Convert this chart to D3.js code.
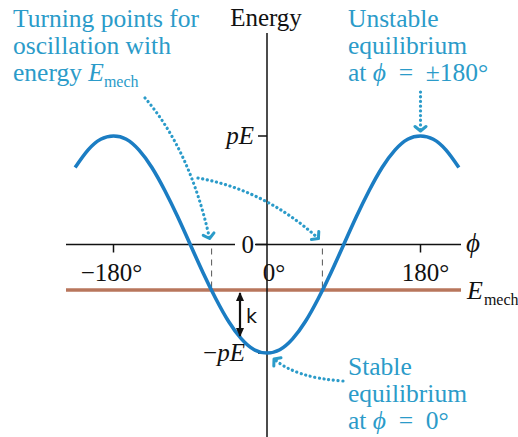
<!DOCTYPE html>
<html>
<head>
<meta charset="utf-8">
<script src="https://cdn.jsdelivr.net/npm/d3@7/dist/d3.min.js"></script>
<style>
  html, body { margin: 0; padding: 0; background: #fff; }
  svg { display: block; }
</style>
</head>
<body>
<script>
// Potential energy of a dipole in a field, U(phi) = -pE cos(phi), in units of pE
const phiDeg = [-225, -210, -195, -180, -165, -150, -135, -120, -105, -90, -75, -60, -45, -30, -15,
                0, 15, 30, 45, 60, 75, 90, 105, 120, 135, 150, 165, 180, 195, 210, 225];
const energy = [0.71, 0.87, 0.97, 1.00, 0.97, 0.87, 0.71, 0.50, 0.26, 0.00, -0.26, -0.50, -0.71, -0.87, -0.97,
                -1.00, -0.97, -0.87, -0.71, -0.50, -0.26, 0.00, 0.26, 0.50, 0.71, 0.87, 0.97, 1.00, 0.97, 0.87, 0.71];
const tickDeg = [-180, 0, 180];
const tickLabels = ["\u2212180\u00b0", "0\u00b0", "180\u00b0"];
const levelValues = [1, -1];
const levelLabels = ["pE", "\u2212pE"];
const eMech = -0.42;            // mechanical energy level
const turningDeg = [-65, 65];   // where the curve crosses E_mech

const W = 518, H = 437;
const BLUE = "#1b7dc3", CYAN = "#2b9bc9", BROWN = "#b8765c";
const SERIF = "'Liberation Serif', 'Times New Roman', serif";

const svg = d3.select("body").append("svg").attr("width", W).attr("height", H)
  .attr("font-family", SERIF);

const x = d3.scaleLinear().domain([-180, 180]).range([113.5, 420.5]);
const y = d3.scaleLinear().domain([-1, 1]).range([353, 136]);
const x0 = x(0), y0 = y(0);

// markers for the dotted callouts and the double arrow
const defs = svg.append("defs");
defs.append("marker").attr("id", "chev")
  .attr("viewBox", "-8 -8 16 16").attr("markerWidth", 16).attr("markerHeight", 16)
  .attr("markerUnits", "userSpaceOnUse").attr("refX", 0).attr("refY", 0).attr("orient", "auto")
  .append("path").attr("d", "M-4.5,-5.5 L0,0 L-4.5,5.5")
  .attr("fill", "none").attr("stroke", CYAN).attr("stroke-width", 3)
  .attr("stroke-linecap", "round").attr("stroke-linejoin", "round");
defs.append("marker").attr("id", "blk")
  .attr("viewBox", "-9 -5 11 10").attr("markerWidth", 11).attr("markerHeight", 10)
  .attr("markerUnits", "userSpaceOnUse").attr("refX", 0).attr("refY", 0).attr("orient", "auto-start-reverse")
  .append("path").attr("d", "M-8,-4 L1,0 L-8,4 Z").attr("fill", "#111");

// mechanical energy level
svg.append("line")
  .attr("x1", 66).attr("x2", 461).attr("y1", y(eMech)).attr("y2", y(eMech))
  .attr("stroke", BROWN).attr("stroke-width", 3.4);

// dashed guides at the turning points
svg.selectAll("line.turn").data(turningDeg).join("line").attr("class", "turn")
  .attr("x1", d => x(d)).attr("x2", d => x(d))
  .attr("y1", y0 + 4).attr("y2", y(eMech) - 2)
  .attr("stroke", "#666").attr("stroke-width", 1.1).attr("stroke-dasharray", "6 5");

// horizontal (phi) axis
svg.append("line").attr("x1", 66).attr("x2", 461).attr("y1", y0).attr("y2", y0)
  .attr("stroke", "#111").attr("stroke-width", 1.5);
svg.selectAll("line.xtick").data(tickDeg.filter(d => d !== 0)).join("line").attr("class", "xtick")
  .attr("x1", d => x(d)).attr("x2", d => x(d)).attr("y1", y0).attr("y2", y0 + 8)
  .attr("stroke", "#111").attr("stroke-width", 1.5);

// vertical (energy) axis
svg.append("line").attr("x1", x0).attr("x2", x0).attr("y1", 33).attr("y2", H)
  .attr("stroke", "#111").attr("stroke-width", 1.5);
svg.selectAll("line.ytick").data(levelValues).join("line").attr("class", "ytick")
  .attr("x1", x0 - 9).attr("x2", x0).attr("y1", d => y(d)).attr("y2", d => y(d))
  .attr("stroke", "#111").attr("stroke-width", 1.5);

// "0" on the phi axis, sitting in a gap of the axis line
svg.append("rect").attr("x", x0 - 32).attr("y", y0 - 4).attr("width", 20).attr("height", 8).attr("fill", "#fff");
svg.append("text").attr("x", x0 - 13).attr("y", y0 + 8).attr("text-anchor", "end")
  .attr("font-size", 25).attr("fill", "#111").text("0");
svg.append("line").attr("x1", x0 - 11).attr("x2", x0).attr("y1", y0).attr("y2", y0)
  .attr("stroke", "#111").attr("stroke-width", 1.5);

// degree labels: the digits are centred on the tick
const xl = svg.selectAll("text.xl").data(tickDeg).join("text").attr("class", "xl")
  .attr("y", y0 + 36).attr("font-size", 25).attr("fill", "#111")
  .text((d, i) => tickLabels[i]);
xl.each(function (d) {
  const s = this.textContent;
  const i0 = s.search(/\d/), i1 = s.lastIndexOf("0") + 1;
  const pre = i0 > 0 ? this.getSubStringLength(0, i0) : 0;
  const digits = this.getSubStringLength(i0, i1 - i0);
  d3.select(this).attr("x", x(d) - digits / 2 - pre + (d === 0 ? 2 : 0));
});

// pE / -pE labels
svg.selectAll("text.yl").data(levelValues).join("text").attr("class", "yl")
  .attr("x", (d, i) => i === 0 ? x0 - 13 : x0 - 22).attr("y", d => y(d) + 8)
  .attr("text-anchor", "end").attr("font-size", 25).attr("font-style", "italic").attr("fill", "#111")
  .each(function (d, i) {
    const t = d3.select(this);
    const s = levelLabels[i];
    if (s.startsWith("\u2212")) {
      t.append("tspan").attr("font-style", "normal").text("\u2212");
      t.append("tspan").text(s.slice(1));
    } else t.text(s);
  });

// axis titles
svg.append("text").attr("x", x0 - 1).attr("y", 26).attr("text-anchor", "middle")
  .attr("font-size", 25).attr("fill", "#111").text("Energy");
svg.append("text").attr("x", 466).attr("y", y0 + 7).attr("font-size", 27)
  .attr("font-style", "italic").attr("fill", "#111").text("\u03d5");
const em = svg.append("text").attr("x", 467).attr("y", y(eMech) + 9).attr("font-size", 26).attr("fill", "#111");
em.append("tspan").attr("font-style", "italic").text("E");
em.append("tspan").attr("font-size", 16).attr("dy", 6).attr("dx", 1).text("mech");

// energy curve
const line = d3.line().x((d, i) => x(phiDeg[i])).y(d => y(d)).curve(d3.curveNatural);
svg.append("path").datum(energy).attr("d", line)
  .attr("fill", "none").attr("stroke", BLUE).attr("stroke-width", 3.6).attr("stroke-linecap", "butt");

// dotted callouts
const dotted = (d) => svg.append("path").attr("d", d)
  .attr("fill", "none").attr("stroke", CYAN).attr("stroke-width", 3.2)
  .attr("stroke-linecap", "round").attr("stroke-dasharray", "0.1 4.6")
  .attr("marker-end", "url(#chev)");
const tL = x(turningDeg[0]) - 2, tR = x(turningDeg[1]) - 4;
dotted(`M145,98 Q190,150 ${tL},${y0 - 6}`);
dotted(`M198,178 Q265,190 ${tR},${y0 - 6}`);
dotted(`M${x(180)},92 L${x(180)},${y(1) - 5}`);
dotted(`M343,381 Q296,378 ${x0 + 7},${y(-1) + 6}`);

// double arrow between E_mech and the bottom of the well, labelled k
svg.append("line").attr("x1", 240).attr("x2", 240).attr("y1", y(eMech) + 3).attr("y2", 336)
  .attr("stroke", "#111").attr("stroke-width", 2.2)
  .attr("marker-start", "url(#blk)").attr("marker-end", "url(#blk)");
svg.append("text").attr("x", 246).attr("y", 323).attr("font-family", "'DejaVu Sans', sans-serif")
  .attr("font-size", 19).attr("fill", "#111").text("k");

// annotation texts
const EN = "\u2002";
const block = (xt, yTop, lines) => {
  lines.forEach((ln, i) => {
    const t = svg.append("text").attr("x", xt).attr("y", yTop + i * 27)
      .attr("font-family", SERIF).attr("font-size", 25.5).attr("fill", CYAN)
      .attr("xml:space", "preserve").style("white-space", "pre");
    ln.forEach(part => {
      const ts = t.append("tspan").text(part.t);
      if (part.i) ts.attr("font-style", "italic");
      if (part.sub) ts.attr("font-size", 16).attr("dy", 6);
    });
  });
};
block(13, 27, [
  [{ t: "Turning points for" }],
  [{ t: "oscillation with" }],
  [{ t: "energy " }, { t: "E", i: true }, { t: "mech", sub: true }]
]);
block(348, 27, [
  [{ t: "Unstable" }],
  [{ t: "equilibrium" }],
  [{ t: "at " }, { t: "\u03d5", i: true }, { t: EN + "=" + EN + "\u00b1180\u00b0" }]
]);
block(348, 375, [
  [{ t: "Stable" }],
  [{ t: "equilibrium" }],
  [{ t: "at " }, { t: "\u03d5", i: true }, { t: EN + "=" + EN + "0\u00b0" }]
]);
</script>
</body>
</html>
